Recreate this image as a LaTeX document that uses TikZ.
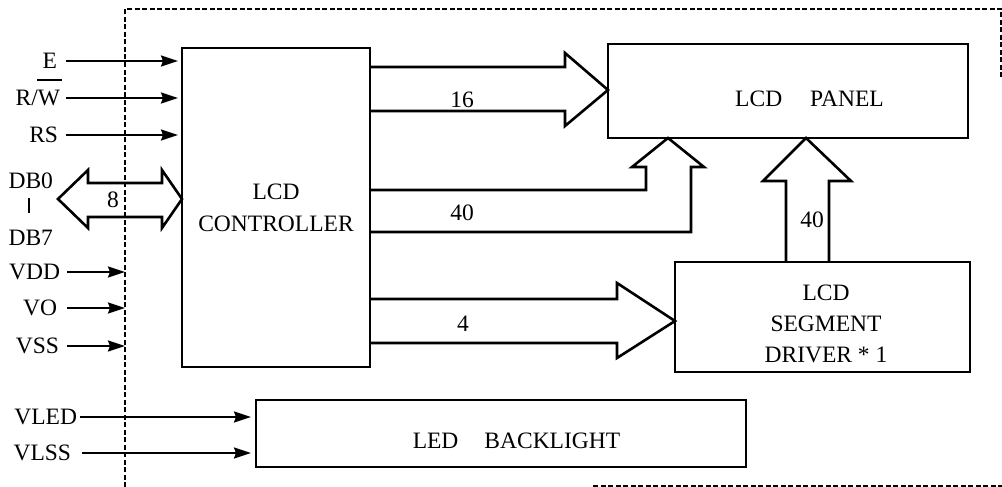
\documentclass[tikz,border=0pt]{standalone}
\usepackage{fontspec}
\setmainfont{Liberation Serif}
\usetikzlibrary{arrows.meta,calc}
\begin{document}
\begin{tikzpicture}[x=1pt,y=-1pt,
  font=\fontsize{23.5}{31}\selectfont,
  box/.style={draw,line width=2.8pt,inner sep=0pt,outer sep=0pt,align=center},
  txt/.style={inner sep=0pt,outer sep=0pt,text height=15.6pt,text depth=0pt},
  mtxt/.style={inner sep=0pt,outer sep=0pt,align=center},
  bus/.style={draw,line width=2.6pt,line join=miter},
  sig/.style={line width=2.2pt,-{Stealth[length=17pt,width=11pt,inset=2pt]}},
  border/.style={line width=1.6pt,dash pattern=on 5pt off 2.5pt}]
\useasboundingbox (0,0) rectangle (1002,487);

% dashed module border
\coordinate (bd) at (125,9);
\draw[border] (125,487) -- (bd) -- (1001,9) -- (1001,77);
\draw[border] (593,486) -- (1002,486);

% blocks
\node[box,minimum width=188pt,minimum height=319pt,
      font=\fontsize{23.5}{32}\selectfont] (ctrl) at (276,207.5) {LCD\\CONTROLLER};
\node[box,minimum width=360pt,minimum height=94pt] (panel) at (788,91) {};
\node[txt] (panelT) at (809.5,99) {LCD\hspace{28pt}PANEL};
\node[box,minimum width=295pt,minimum height=110pt] (seg) at (822.5,317) {};
\node[mtxt,font=\fontsize{23.5}{30.7}\selectfont] (segT) at (826,323.7) {LCD\\SEGMENT\\DRIVER * 1};
\node[box,minimum width=490pt,minimum height=67pt] (led) at (501,433.5) {};
\node[txt] (ledT) at (516.5,440.5) {LED\hspace{26pt}BACKLIGHT};

% signal labels
\node[txt,anchor=east] (lE) at (57,61) {E};
\node[txt,anchor=east] (lRW) at (60,98) {R/W};
\node[txt,anchor=east] (lRS) at (58,135) {RS};
\node[txt,anchor=east] (lDBa) at (53,181) {DB0};
\node[txt,anchor=east] (lDBb) at (53,238) {DB7};
\node[txt,anchor=east] (lVDD) at (60,272) {VDD};
\node[txt,anchor=east] (lVO) at (57,308) {VO};
\node[txt,anchor=east] (lVSS) at (59,346) {VSS};
\node[txt,anchor=east] (lVLED) at (77,417) {VLED};
\node[txt,anchor=east] (lVLSS) at (71,453) {VLSS};

% overline on W and DB0-DB7 bar
\draw[line width=1.8pt] ([xshift=-23pt,yshift=10pt]lRW.north east) -- ([xshift=2pt,yshift=10pt]lRW.north east);
\draw[line width=2.2pt] ([xshift=-1.5pt,yshift=-9.5pt]lDBa.south) -- ([xshift=-1.5pt,yshift=17pt]lDBb.north);

% start coordinates of signal lines
\coordinate (sx) at (66,0);
\coordinate (sy) at (67,0);
\coordinate (sl) at (80,0);
\coordinate (sm) at (82,0);

% control signals
\draw[sig] (lE -| sx) -- ([xshift=-4pt]lE -| ctrl.west);
\draw[sig] (lRW -| sx) -- ([xshift=-4pt]lRW -| ctrl.west);
\draw[sig] (lRS -| sx) -- ([xshift=-4pt]lRS -| ctrl.west);

% power
\draw[sig] (lVDD -| sy) -- (lVDD -| bd);
\draw[sig] (lVO -| sy) -- (lVO -| bd);
\draw[sig] (lVSS -| sy) -- (lVSS -| bd);

% backlight supply
\draw[sig] (lVLED -| sl) -- ([xshift=-5pt]lVLED -| led.west);
\draw[sig] (lVLSS -| sm) -- ([xshift=-5pt]lVLSS -| led.west);

% data bus 8 (bidirectional)
\draw[bus] (58,199) -- (88,170) -- (88,183) -- (162,183) -- (162,170) -- (ctrl.west |- 0,199)
  -- (162,228) -- (162,217) -- (88,217) -- (88,228) -- cycle;
\node[txt] (n8) at (113,200) {8};

% bus 16 to panel
\draw[bus] (ctrl.east |- 0,67) -- (565,67) -- (565,53) -- (panel.west |- 0,90)
  -- (565,126) -- (565,111) -- (ctrl.east |- 0,111);
\node[txt] (n16) at (462,100) {16};

% bus 40 to panel bottom
\draw[bus] (ctrl.east |- 0,190) -- (646,190) -- (646,167) -- (632,167) -- (panel.south -| 668,0)
  -- (704,167) -- (691,167) -- (691,232) -- (ctrl.east |- 0,232);
\node[txt] (n40a) at (462,213) {40};

% bus 4 to segment driver
\draw[bus] (ctrl.east |- 0,299) -- (617,299) -- (617,283) -- (seg.west |- 0,321)
  -- (617,358) -- (617,343) -- (ctrl.east |- 0,343);
\node[txt] (n4) at (463,324) {4};

% bus 40 from segment driver to panel
\draw[bus] (seg.north -| 786,0) -- (786,181) -- (763,181) -- (panel.south -| 806,0)
  -- (851,181) -- (829,181) -- (seg.north -| 829,0);
\node[txt] (n40b) at (812,220) {40};
\end{tikzpicture}
\end{document}
